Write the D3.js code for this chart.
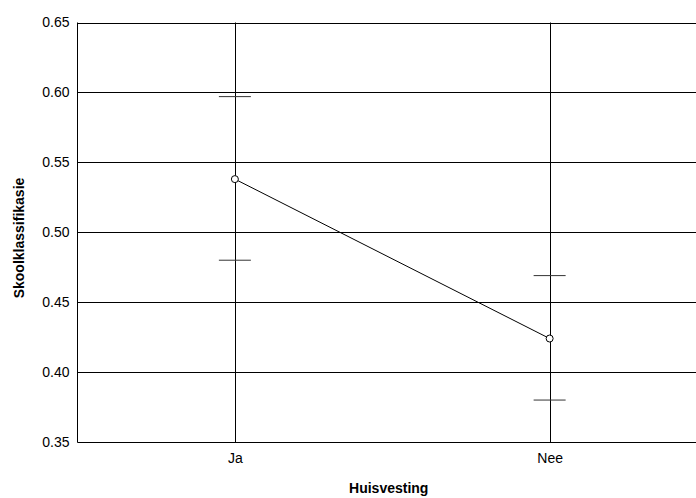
<!DOCTYPE html>
<html>
<head>
<meta charset="utf-8">
<script src="https://cdn.jsdelivr.net/npm/d3@7"></script>
<style>
  html, body { margin: 0; padding: 0; background: #fff; }
  svg { display: block; }
  text { font-family: "Liberation Sans", Arial, sans-serif; fill: #000; }
</style>
</head>
<body>
<svg id="chart" width="696" height="498"></svg>
<script>
// Huisvesting groups and mean Skoolklassifikasie with interval bounds
const categories = ["Ja", "Nee"];
const means = [0.538, 0.424];
const lower = [0.480, 0.380];
const upper = [0.597, 0.469];
const yTicks = [0.35, 0.40, 0.45, 0.50, 0.55, 0.60, 0.65];

const svg = d3.select("#chart");
const plotLeft = 77.5, plotTop = 22.5, plotBottom = 442, plotRight = 707;

const x = d3.scalePoint().domain(categories).range([plotLeft, plotRight]).padding(0.5);
const y = d3.scaleLinear().domain([0.35, 0.65]).range([plotBottom, plotTop]);

// horizontal grid lines at every tick
svg.append("g").selectAll("line").data(yTicks).join("line")
  .attr("x1", plotLeft).attr("x2", 696)
  .attr("y1", d => Math.round(y(d)) + 0.5).attr("y2", d => Math.round(y(d)) + 0.5)
  .attr("stroke", "#000").attr("stroke-width", 1);

// left frame line
svg.append("line")
  .attr("x1", plotLeft).attr("x2", plotLeft).attr("y1", plotTop).attr("y2", plotBottom + 0.5)
  .attr("stroke", "#000").attr("stroke-width", 1);

// vertical reference lines at each category
svg.append("g").selectAll("line").data(categories).join("line")
  .attr("x1", d => Math.round(x(d)) + 0.5).attr("x2", d => Math.round(x(d)) + 0.5)
  .attr("y1", plotTop).attr("y2", plotBottom)
  .attr("stroke", "#000").attr("stroke-width", 1);

// y tick labels
const yAxis = d3.axisLeft(y).tickValues(yTicks).tickFormat(d3.format(".2f")).tickSize(0).tickPadding(8);
const ya = svg.append("g").attr("transform", `translate(${plotLeft},0)`).call(yAxis);
ya.select(".domain").remove();
ya.selectAll("text").attr("font-size", 14).attr("font-family", "Liberation Sans, Arial, sans-serif").attr("fill", "#000");

// x tick labels
const xAxis = d3.axisBottom(x).tickSize(0).tickPadding(11);
const xa = svg.append("g").attr("transform", `translate(0,${plotBottom})`).call(xAxis);
xa.select(".domain").remove();
xa.selectAll("text").attr("font-size", 14).attr("font-family", "Liberation Sans, Arial, sans-serif").attr("fill", "#000");

// interval caps
const capHalf = 16;
const caps = [];
categories.forEach((c, i) => { caps.push([c, lower[i]]); caps.push([c, upper[i]]); });
svg.append("g").selectAll("line").data(caps).join("line")
  .attr("x1", d => x(d[0]) - capHalf).attr("x2", d => x(d[0]) + capHalf)
  .attr("y1", d => y(d[1])).attr("y2", d => y(d[1]))
  .attr("stroke", "#333").attr("stroke-width", 1);

// mean line
const pts = categories.map((c, i) => [x(c), y(means[i])]);
svg.append("path")
  .attr("d", d3.line()(pts))
  .attr("fill", "none").attr("stroke", "#000").attr("stroke-width", 1);

// mean markers
svg.append("g").selectAll("circle").data(pts).join("circle")
  .attr("cx", d => d[0]).attr("cy", d => d[1]).attr("r", 3.5)
  .attr("fill", "#fff").attr("stroke", "#000").attr("stroke-width", 1);

// axis titles
svg.append("text")
  .attr("x", (plotLeft + 696) / 2 + 2).attr("y", 493)
  .attr("text-anchor", "middle").attr("font-size", 14).attr("font-weight", "bold")
  .text("Huisvesting");

svg.append("text")
  .attr("transform", `translate(24,238) rotate(-90)`)
  .attr("text-anchor", "middle").attr("font-size", 14).attr("font-weight", "bold")
  .text("Skoolklassifikasie");
</script>
</body>
</html>
